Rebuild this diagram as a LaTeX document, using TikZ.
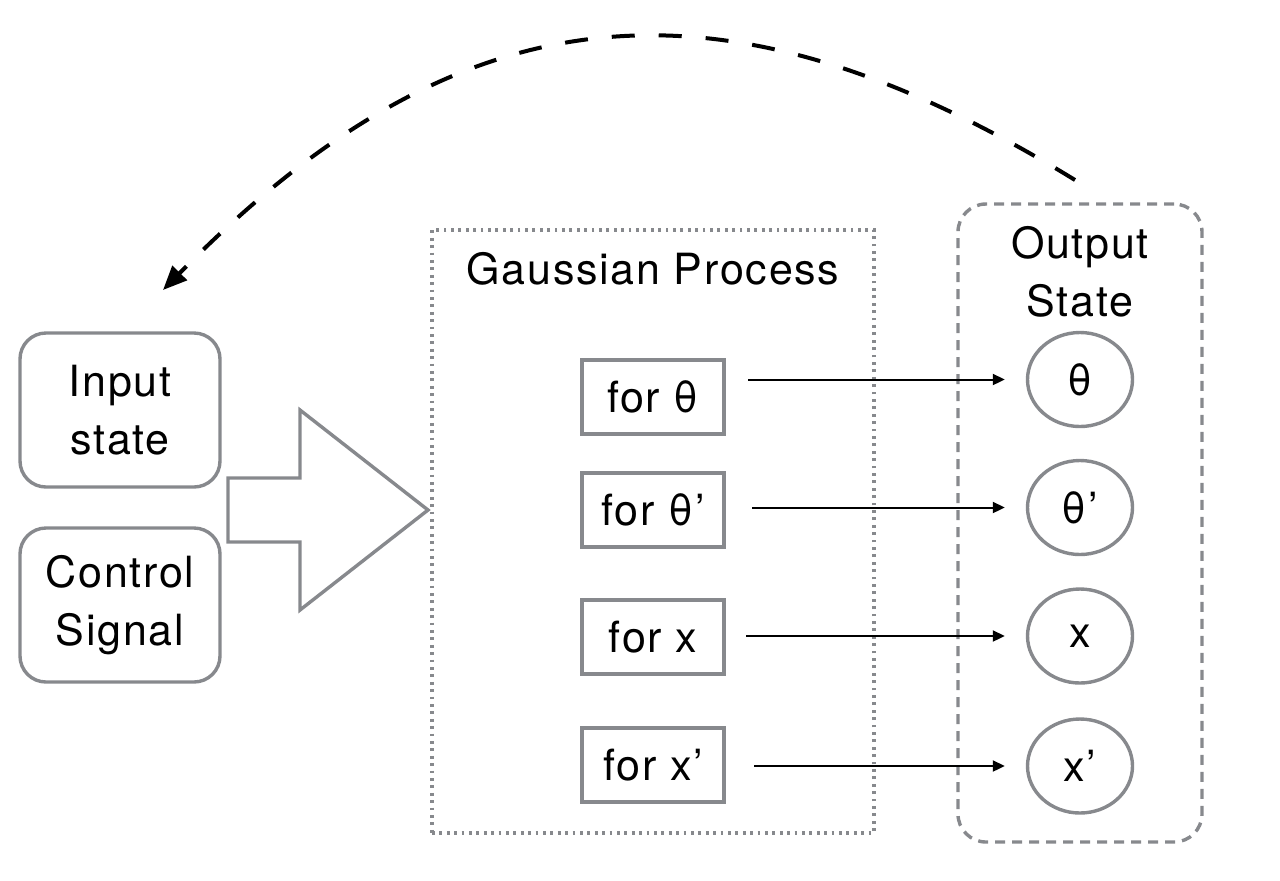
\documentclass[tikz,border=0pt]{standalone}
\usepackage{fontspec}
\setmainfont{TeX Gyre Heros}[LetterSpace=4]
\usetikzlibrary{arrows.meta,shapes.geometric}
\definecolor{boxgray}{RGB}{135,137,141}
\begin{document}
\begin{tikzpicture}[x=0.5pt,y=-0.5pt,line join=miter,font=\fontsize{21.5}{29}\selectfont,
  roundbox/.style={draw=boxgray,line width=1.7pt,rounded corners=13pt,minimum width=100pt,minimum height=77pt,align=center,inner sep=0pt},
  gpbox/.style={draw=boxgray,line width=1.6pt,dash pattern=on 1.4pt off 2.3pt,minimum width=221pt,minimum height=301.5pt,inner sep=0pt},
  forbox/.style={draw=boxgray,line width=1.7pt,minimum width=71pt,minimum height=37pt,inner sep=0pt},
  outbox/.style={draw=boxgray,line width=1.7pt,dash pattern=on 5pt off 3.5pt,rounded corners=14pt,minimum width=122pt,minimum height=319pt,inner sep=0pt},
  state/.style={draw=boxgray,line width=1.7pt,ellipse,minimum width=52.5pt,minimum height=47pt,inner sep=0pt},
  flow/.style={-{Triangle[length=6pt,width=5.5pt]},line width=1pt,shorten >=10.5pt},
  loopback/.style={-{Triangle[length=12pt,width=10pt]},line width=2pt,dash pattern=on 11.5pt off 12pt}]
 	\useasboundingbox (0,0) rectangle (1280,880);
 	% inputs
 	\node[roundbox] (input) at (120,410) {Input\\state};
 	\node[roundbox] (control) at (120,605) {Control\\Signal};
 	\draw[draw=boxgray,line width=1.7pt] (228,478) -- (300,478) -- (300,410) -- (428,510) -- (300,610) -- (300,542) -- (228,542) -- cycle;
 	% gaussian process
 	\node[gpbox] (gp) at (653,531.5) {};
 	\node[anchor=base] (gptitle) at (653,284) {Gaussian Process};
 	\node[forbox] (f1) at (653,397) {for θ};
 	\node[forbox] (f2) at (653,510) {for θ’};
 	\node[forbox] (f3) at (653,637) {for x};
 	\node[forbox] (f4) at (653,765) {for x’};
 	% output state
 	\node[outbox] (out) at (1080,523) {};
 	\node[align=center] (outtitle) at (1080,272) {Output\\State};
 	\node[state] (s1) at (1080,379.5) {θ};
 	\node[state] (s2) at (1080,507.5) {θ’};
 	\node[state] (s3) at (1080,636) {x};
 	\node[state] (s4) at (1080,766) {x’};
 	\coordinate (a1) at (748,379.5);
 	\coordinate (a2) at (752,507.5);
 	\coordinate (a3) at (746,636);
 	\coordinate (a4) at (754,766);
 	\draw[flow] (a1) -- (s1);
 	\draw[flow] (a2) -- (s2);
 	\draw[flow] (a3) -- (s3);
 	\draw[flow] (a4) -- (s4);
 	% feedback
 	\coordinate (fbstart) at (1075,180);
 	\coordinate (fbend) at (163,290);
 	\draw[loopback] (fbstart) .. controls (720,-38) and (460,-12) .. (fbend);
\end{tikzpicture}
\end{document}
